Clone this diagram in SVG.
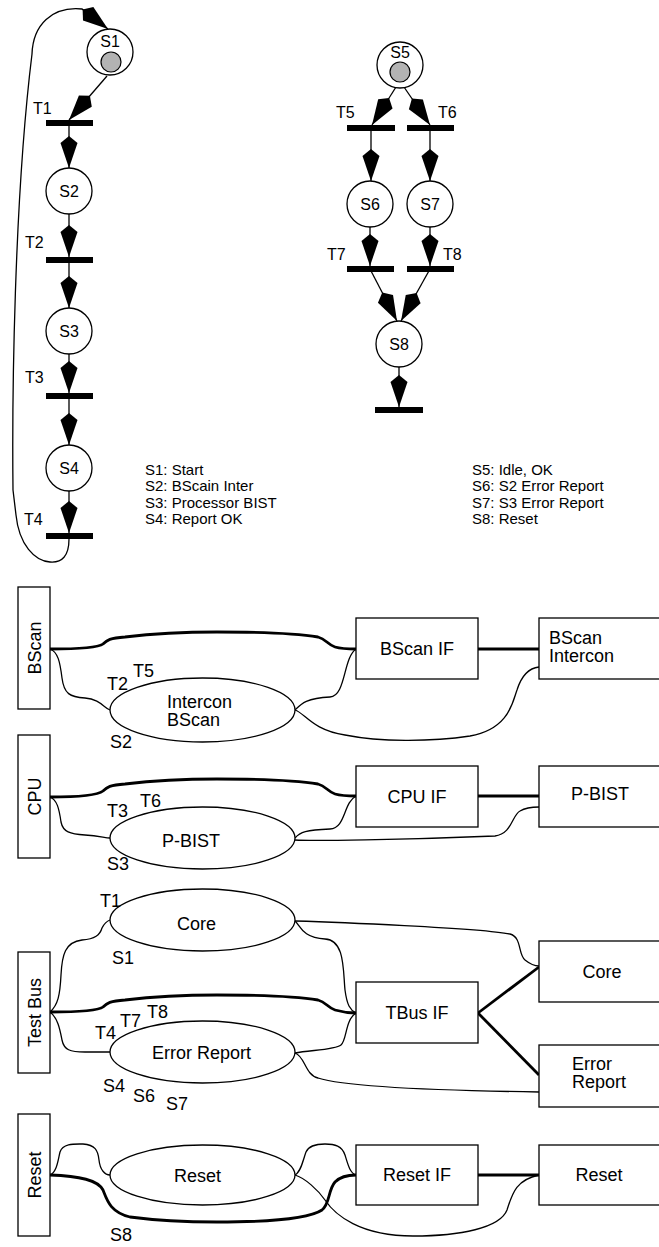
<svg xmlns="http://www.w3.org/2000/svg" width="659" height="1247" viewBox="0 0 659 1247">
<style>
.thin{fill:none;stroke:#000;stroke-width:1.3}
.thick{fill:none;stroke:#000;stroke-width:2.8}
.arc{fill:none;stroke:#000;stroke-width:1.3;marker-end:url(#ah)}
.pl{fill:#fff;stroke:#000;stroke-width:1.3}
.tok{fill:#b3b3b3;stroke:#000;stroke-width:1.2}
.bar{fill:#000}
.box{fill:#fff;stroke:#000;stroke-width:1.3}
.p{font-family:"Liberation Sans",Arial,sans-serif;font-size:16px;fill:#000}
.lg{font-family:"Liberation Sans",Arial,sans-serif;font-size:15px;fill:#000}
.b{font-family:"Liberation Sans",Arial,sans-serif;font-size:18px;fill:#000}
.m{text-anchor:middle}
</style>
<defs>
<marker id="ah" viewBox="-33 -10 34 20" refX="0" refY="0" markerWidth="34" markerHeight="20" markerUnits="userSpaceOnUse" orient="auto">
<path d="M0,0 L-25,-8.5 L-32,0 L-25,8.5 Z" fill="#000"/>
</marker>
</defs>
<rect x="0" y="0" width="659" height="1247" fill="#fff"/>

<g id="connectors">
<path class="arc" d="M107,76 L69,120"/>
<path class="arc" d="M69,126 L69,168"/>
<path class="arc" d="M69,214 L69,257"/>
<path class="arc" d="M69,263 L69,308"/>
<path class="arc" d="M69,354 L69,393"/>
<path class="arc" d="M69,399 L69,445"/>
<path class="arc" d="M69,491 L69,533"/>
<path class="arc" d="M69,539 C69,556 62,563 50,562 C35,561 19,545 16,515 L13,490 C12,400 14,200 32,54 C33,25 52,6 82,9 L108,29"/>
<path class="arc" d="M396,87 L372,125"/>
<path class="arc" d="M404,87 L430,125"/>
<path class="arc" d="M371,128 L371,181"/>
<path class="arc" d="M430,128 L430,181"/>
<path class="arc" d="M370,227 L370,266"/>
<path class="arc" d="M430,227 L430,266"/>
<path class="arc" d="M370,269 L397,321"/>
<path class="arc" d="M430,269 L401,321"/>
<path class="arc" d="M399,367 L399,407"/>

<path class="thin" d="M50,649 C58,652 60,662 62,678 C64,694 70,697 85,698 C100,699 104,708 110,710"/>
<path class="thick" d="M50,649 C78,649 98,648 103,644 C107,640 110,638 125,637 C150,634 190,632 217,632 C260,632 300,634 318,637 C326,639 328,645 335,647 C342,649 350,649 356,649"/>
<path class="thin" d="M295,710 C301,704 306,698 330,697 C346,696 343,658 356,649"/>
<path class="thin" d="M295,710 C305,713 312,730 345,735 C380,742 430,742 470,736 C510,729 513,700 517,690 C522,674 530,668 539,667"/>
<path class="thick" d="M478,649 L539,649"/>

<path class="thin" d="M50,797 C57,800 59,808 61,822 C63,832 70,834 85,835 C100,836 105,838 110,838"/>
<path class="thick" d="M50,797 C78,797 98,795 103,791 C107,787 110,785 125,784 C150,781 190,779 217,779 C260,779 300,781 318,784 C326,786 328,792 335,794 C342,796 350,796 356,796"/>
<path class="thin" d="M295,838 C300,832 306,830 330,829 C346,828 343,803 356,796"/>
<path class="thin" d="M295,840 C310,841 400,840 495,836 C512,834 512,815 520,811 C525,808 532,807 539,807"/>
<path class="thick" d="M478,796 L539,796"/>

<path class="thin" d="M50,1012 C58,1005 60,995 61,975 C62,955 65,942 82,940 C95,939 100,935 102,928 C104,924 107,921 110,920"/>
<path class="thick" d="M50,1012 C78,1012 98,1011 103,1007 C107,1003 110,1001 125,1000 C150,997 190,995 217,995 C260,995 300,997 318,1000 C326,1002 328,1008 335,1010 C342,1012 350,1013 356,1013"/>
<path class="thin" d="M50,1012 C58,1018 60,1030 62,1040 C64,1050 70,1052 85,1052 L110,1052"/>
<path class="thin" d="M295,921 C330,922 480,928 510,934 C522,937 518,955 525,960 C530,964 535,966 539,966"/>
<path class="thin" d="M295,921 C300,925 302,938 325,939 C345,940 343,970 345,990 C347,1005 350,1010 356,1013"/>
<path class="thin" d="M295,1053 C310,1050 335,1050 341,1045 C347,1040 345,1020 356,1013"/>
<path class="thin" d="M295,1053 C305,1056 305,1075 318,1078 C340,1085 400,1090 539,1092"/>
<path class="thick" d="M478,1013 L539,967"/>
<path class="thick" d="M478,1013 L539,1075"/>

<path class="thin" d="M50,1175 C57,1172 58,1160 60,1152 C63,1143 75,1144 83,1144 C95,1145 98,1150 99,1160 C100,1170 105,1175 110,1175"/>
<path class="thick" d="M50,1175 C80,1176 98,1180 103,1190 C107,1200 110,1212 130,1217 C160,1221 190,1222 217,1222 C270,1222 310,1218 322,1210 C330,1204 328,1190 335,1182 C340,1177 348,1175 356,1175"/>
<path class="thin" d="M295,1175 C301,1172 303,1160 306,1152 C309,1145 318,1144 325,1144 C335,1144 342,1146 345,1155 C348,1165 350,1173 356,1175"/>
<path class="thin" d="M295,1175 C305,1178 318,1190 325,1200 C335,1215 360,1236 413,1236 C460,1236 500,1228 507,1210 C512,1195 515,1180 539,1175"/>
<path class="thick" d="M478,1175 L539,1175"/>
</g>

<g id="S1"><circle class="pl" cx="110" cy="52" r="23"/><text class="p m" x="110" y="47">S1</text><circle class="tok" cx="111" cy="62" r="10"/></g>
<g id="T1"><rect class="bar" x="46" y="120" width="47" height="6"/><text class="p" x="33" y="114">T1</text></g>
<g id="S2"><circle class="pl" cx="69" cy="191" r="23"/><text class="p m" x="69" y="197">S2</text></g>
<g id="T2"><rect class="bar" x="46" y="257" width="47" height="6"/><text class="p" x="25" y="248">T2</text></g>
<g id="S3"><circle class="pl" cx="69" cy="331" r="23"/><text class="p m" x="69" y="337">S3</text></g>
<g id="T3"><rect class="bar" x="46" y="393" width="47" height="6"/><text class="p" x="25" y="383">T3</text></g>
<g id="S4"><circle class="pl" cx="69" cy="468" r="23"/><text class="p m" x="69" y="474">S4</text></g>
<g id="T4"><rect class="bar" x="46" y="533" width="47" height="6"/><text class="p" x="24" y="525">T4</text></g>

<g id="S5"><circle class="pl" cx="400" cy="65" r="23"/><text class="p m" x="400" y="58">S5</text><circle class="tok" cx="400" cy="72" r="10"/></g>
<g id="T5"><rect class="bar" x="347" y="125" width="48" height="6"/><text class="p" x="336" y="118">T5</text></g>
<g id="T6"><rect class="bar" x="407" y="125" width="47" height="6"/><text class="p" x="438" y="118">T6</text></g>
<g id="S6"><circle class="pl" cx="370" cy="204" r="23"/><text class="p m" x="370" y="210">S6</text></g>
<g id="S7"><circle class="pl" cx="430" cy="204" r="23"/><text class="p m" x="430" y="210">S7</text></g>
<g id="T7"><rect class="bar" x="347" y="266" width="47" height="6"/><text class="p" x="327" y="260">T7</text></g>
<g id="T8"><rect class="bar" x="407" y="266" width="47" height="6"/><text class="p" x="443" y="260">T8</text></g>
<g id="S8"><circle class="pl" cx="399" cy="344" r="23"/><text class="p m" x="399" y="350">S8</text></g>
<g id="T9"><rect class="bar" x="375" y="407" width="48" height="6"/></g>

<g id="legend-left" class="lg">
<text x="145" y="475">S1: Start</text>
<text x="145" y="491">S2: BScain Inter</text>
<text x="145" y="508">S3: Processor BIST</text>
<text x="145" y="524">S4: Report OK</text>
</g>
<g id="legend-right" class="lg">
<text x="472" y="475">S5: Idle, OK</text>
<text x="472" y="491">S6: S2 Error Report</text>
<text x="472" y="508">S7: S3 Error Report</text>
<text x="472" y="524">S8: Reset</text>
</g>

<g id="BScan"><rect class="box" x="18" y="587" width="32" height="122"/><text class="b m" transform="translate(40.5,648) rotate(-90)">BScan</text></g>
<g id="InterconBScan"><ellipse class="box" cx="202.5" cy="710" rx="92.5" ry="32"/><text class="b" x="167" y="708">Intercon</text><text class="b" x="167" y="726">BScan</text>
<text class="b" x="133" y="677">T5</text><text class="b" x="107" y="690">T2</text><text class="b" x="110" y="748">S2</text></g>
<g id="BScanIF"><rect class="box" x="356" y="618" width="122" height="61"/><text class="b m" x="417" y="655">BScan IF</text></g>
<g id="BScanIntercon"><rect class="box" x="539" y="618" width="122" height="61"/><text class="b" x="549" y="644">BScan</text><text class="b" x="549" y="662">Intercon</text></g>

<g id="CPU"><rect class="box" x="18" y="735" width="32" height="123"/><text class="b m" transform="translate(40.5,796.5) rotate(-90)">CPU</text></g>
<g id="PBIST-state"><ellipse class="box" cx="202.5" cy="838" rx="92.5" ry="31"/><text class="b" x="162" y="847">P-BIST</text>
<text class="b" x="107" y="817">T3</text><text class="b" x="140" y="807">T6</text><text class="b" x="107" y="870">S3</text></g>
<g id="CPUIF"><rect class="box" x="356" y="766" width="122" height="61"/><text class="b m" x="417" y="803">CPU IF</text></g>
<g id="PBIST"><rect class="box" x="539" y="766" width="122" height="61"/><text class="b m" x="600" y="800">P-BIST</text></g>

<g id="TestBus"><rect class="box" x="18" y="952" width="32" height="121"/><text class="b m" transform="translate(40.5,1012.5) rotate(-90)">Test Bus</text></g>
<g id="Core-state"><ellipse class="box" cx="202.5" cy="920" rx="92.5" ry="31"/><text class="b" x="177" y="930">Core</text>
<text class="b" x="100" y="907">T1</text><text class="b" x="112" y="964">S1</text></g>
<g id="ErrorReport-state"><ellipse class="box" cx="202.5" cy="1052" rx="92.5" ry="31"/><text class="b" x="152" y="1059">Error Report</text>
<text class="b" x="95" y="1039">T4</text><text class="b" x="120" y="1027">T7</text><text class="b" x="147" y="1018">T8</text>
<text class="b" x="103" y="1092">S4</text><text class="b" x="133" y="1102">S6</text><text class="b" x="166" y="1110">S7</text></g>
<g id="TBusIF"><rect class="box" x="356" y="982" width="122" height="61"/><text class="b m" x="417" y="1019">TBus IF</text></g>
<g id="Core"><rect class="box" x="539" y="941" width="122" height="61"/><text class="b m" x="602" y="978">Core</text></g>
<g id="ErrorReport"><rect class="box" x="539" y="1045" width="122" height="62"/><text class="b" x="572" y="1070">Error</text><text class="b" x="572" y="1088">Report</text></g>

<g id="ResetLane"><rect class="box" x="18" y="1114" width="32" height="122"/><text class="b m" transform="translate(40.5,1175) rotate(-90)">Reset</text></g>
<g id="Reset-state"><ellipse class="box" cx="202.5" cy="1175" rx="92.5" ry="30"/><text class="b" x="174" y="1182">Reset</text>
<text class="b" x="110" y="1241">S8</text></g>
<g id="ResetIF"><rect class="box" x="356" y="1145" width="122" height="60"/><text class="b m" x="417" y="1181">Reset IF</text></g>
<g id="Reset"><rect class="box" x="539" y="1145" width="122" height="60"/><text class="b m" x="599" y="1181">Reset</text></g>
</svg>
